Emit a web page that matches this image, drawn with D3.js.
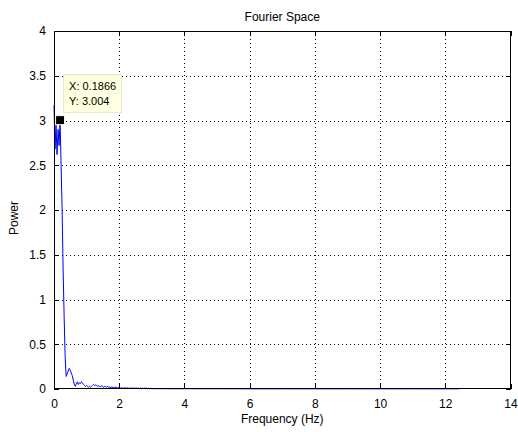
<!DOCTYPE html>
<html>
<head>
<meta charset="utf-8">
<script src="https://cdn.jsdelivr.net/npm/d3@7"></script>
<style>
  html, body { margin: 0; padding: 0; background: #ffffff; }
  svg { display: block; }
  text { font-family: "Liberation Sans", Arial, Helvetica, sans-serif; fill: #000; }
</style>
</head>
<body>
<script>
// Power spectrum: uniformly spaced bins from 0 Hz up to ~3 Hz
const freqStep = 0.0311;
const powerLow = [
  3.17, 2.68, 2.95, 2.62, 2.90, 2.72, 3.004, 2.50, 2.00, 1.33,
  0.80, 0.36, 0.14, 0.17, 0.20, 0.23, 0.21, 0.18, 0.15, 0.10,
  0.05, 0.03, 0.06, 0.08, 0.05, 0.07, 0.06, 0.08, 0.07, 0.05,
  0.04, 0.03, 0.04, 0.03, 0.02, 0.03, 0.02, 0.03, 0.04, 0.05,
  0.04, 0.045, 0.04, 0.03, 0.035, 0.03, 0.025, 0.035, 0.03, 0.02,
  0.03, 0.025, 0.02, 0.03, 0.015, 0.02, 0.01, 0.025, 0.015, 0.02,
  0.01, 0.025, 0.015, 0.01, 0.02, 0.018, 0.006, 0.016, 0.005, 0.017,
  0.006, 0.015, 0.005, 0.016, 0.004, 0.014, 0.005, 0.015, 0.004, 0.013,
  0.005, 0.014, 0.004, 0.012, 0.004, 0.013, 0.003, 0.011, 0.004, 0.012,
  0.003, 0.010, 0.004, 0.009, 0.003, 0.008, 0.003
];
// Remaining high-frequency part of the spectrum (nearly flat)
const tailFreq  = [3.05, 3.5, 4.0, 5.0, 6.0, 7.0, 8.0, 9.0, 10.0, 11.0, 12.0, 12.43];
const tailPower = [0.004, 0.003, 0.003, 0.003, 0.002, 0.002, 0.002, 0.002, 0.002, 0.002, 0.002, 0.002];

// Axis ticks
const xTicks = [0, 2, 4, 6, 8, 10, 12, 14];
const yTicks = [0, 0.5, 1, 1.5, 2, 2.5, 3, 3.5, 4];

// Highlighted data point
const tipFreq = 0.1866;
const tipPower = 3.004;

const W = 518, H = 432;
const margin = { left: 54, right: 7.5, top: 31, bottom: 43 };
const iw = W - margin.left - margin.right;
const ih = H - margin.top - margin.bottom;

const spectrum = powerLow.map((p, i) => ({ f: i * freqStep, p }))
  .concat(tailFreq.map((f, i) => ({ f, p: tailPower[i] })));

const svg = d3.select("body").append("svg").attr("width", W).attr("height", H);
const g = svg.append("g").attr("transform", `translate(${margin.left},${margin.top})`);

const x = d3.scaleLinear().domain([0, 14]).range([0, iw]);
const y = d3.scaleLinear().domain([0, 4]).range([ih, 0]);

// Plot background
g.append("rect").attr("width", iw).attr("height", ih).attr("fill", "#fff");

// Dotted grid
const grid = g.append("g").attr("stroke", "#000").attr("stroke-width", 1)
  .attr("stroke-dasharray", "1,3").attr("shape-rendering", "crispEdges");
grid.selectAll(".gx").data(xTicks.slice(1, -1)).join("line")
  .attr("x1", d => Math.round(x(d)) + 0.5).attr("x2", d => Math.round(x(d)) + 0.5)
  .attr("y1", 0).attr("y2", ih);
grid.selectAll(".gy").data(yTicks.slice(1, -1)).join("line")
  .attr("y1", d => Math.round(y(d)) + 0.5).attr("y2", d => Math.round(y(d)) + 0.5)
  .attr("x1", 0).attr("x2", iw);

// Spectrum line
const line = d3.line().x(d => x(d.f)).y(d => y(d.p));
g.append("path").datum(spectrum)
  .attr("fill", "none").attr("stroke", "#0000ff").attr("stroke-width", 1)
  .attr("d", line);

// Axes with inward ticks on all four sides
const fmt = d => String(d);
const axB = g.append("g").attr("transform", `translate(0,${ih})`)
  .call(d3.axisBottom(x).tickValues(xTicks).tickFormat(fmt).tickSizeInner(-5).tickSizeOuter(0).tickPadding(10));
const axT = g.append("g")
  .call(d3.axisTop(x).tickValues(xTicks).tickFormat("").tickSizeInner(-5).tickSizeOuter(0));
const axL = g.append("g")
  .call(d3.axisLeft(y).tickValues(yTicks).tickFormat(fmt).tickSizeInner(-5).tickSizeOuter(0).tickPadding(8));
const axR = g.append("g").attr("transform", `translate(${iw},0)`)
  .call(d3.axisRight(y).tickValues(yTicks).tickFormat("").tickSizeInner(-5).tickSizeOuter(0));

[axB, axT, axL, axR].forEach(a => {
  a.select(".domain").remove();
  a.selectAll("line").attr("stroke", "#000").attr("shape-rendering", "crispEdges");
  a.selectAll("text").attr("font-size", 12).attr("fill", "#000")
    .attr("font-family", "'Liberation Sans', Arial, sans-serif");
});

// Axes box
g.append("rect").attr("x", 0.5).attr("y", 0.5).attr("width", iw - 1).attr("height", ih - 1)
  .attr("fill", "none").attr("stroke", "#000").attr("stroke-width", 1)
  .attr("shape-rendering", "crispEdges");

// Titles
svg.append("text").attr("x", margin.left + iw / 2).attr("y", 21)
  .attr("text-anchor", "middle").attr("font-size", 12).text("Fourier Space");
svg.append("text").attr("x", margin.left + iw / 2).attr("y", 423)
  .attr("text-anchor", "middle").attr("font-size", 12).text("Frequency (Hz)");
svg.append("text")
  .attr("transform", `translate(18,${margin.top + ih / 2 + 8}) rotate(-90)`)
  .attr("text-anchor", "middle").attr("font-size", 12).text("Power");

// Data tip
const tx = x(tipFreq), ty = y(tipPower);
const tip = g.append("g");
tip.append("rect")
  .attr("x", tx + 3.5).attr("y", ty - 45.5).attr("width", 58).attr("height", 38)
  .attr("fill", "#ffffe1").attr("stroke", "#e6e6c8").attr("stroke-width", 1);
tip.append("text").attr("x", tx + 9).attr("y", ty - 30).attr("font-size", 11)
  .text(`X: ${tipFreq}`);
tip.append("text").attr("x", tx + 9).attr("y", ty - 15).attr("font-size", 11)
  .text(`Y: ${tipPower}`);
tip.append("rect")
  .attr("x", tx - 4.5).attr("y", ty - 4.5).attr("width", 9).attr("height", 9)
  .attr("fill", "#000").attr("stroke", "#ffffe1").attr("stroke-width", 1);
</script>
</body>
</html>
